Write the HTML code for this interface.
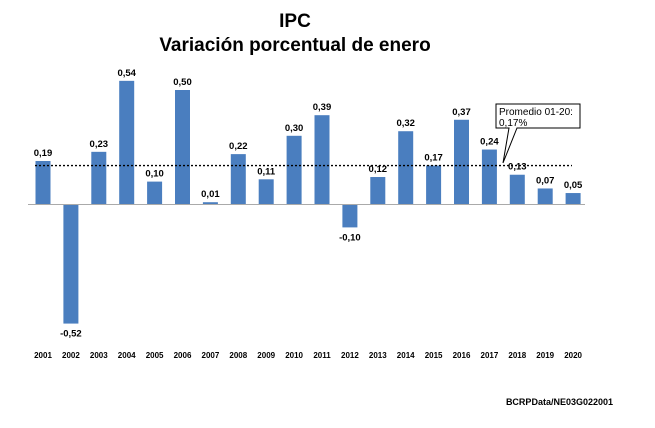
<!DOCTYPE html>
<html><head><meta charset="utf-8"><style>
body{margin:0;background:#fff;}
svg{display:block;font-family:"Liberation Sans",Arial,sans-serif;}
</style></head><body>
<svg width="655" height="428">
<text x="295" y="27" text-anchor="middle" font-size="19" font-weight="bold">IPC</text>
<text x="295" y="51" text-anchor="middle" font-size="19" font-weight="bold">Variación porcentual de enero</text>
<g id="bars"></g>
<line x1="28" y1="204.5" x2="585" y2="204.5" stroke="#aaa" stroke-width="1"/>
<g id="labels"></g>
<g id="years"></g>
<line id="avg" x1="35" x2="572" stroke="#000" stroke-width="1.3" stroke-dasharray="2,2"/>
<g>
<path d="M496,104 H580 V128 H517 L503,163 L509,128 H496 Z" fill="#fff" stroke="#000" stroke-width="1"/>
<text x="499" y="115" font-size="10">Promedio 01-20:</text>
<text x="499" y="126" font-size="10">0,17%</text>
</g>
<text x="613" y="405" text-anchor="end" font-size="9" font-weight="bold">BCRPData/NE03G022001</text>
</svg>
<script>
const years=["2001","2002","2003","2004","2005","2006","2007","2008","2009","2010","2011","2012","2013","2014","2015","2016","2017","2018","2019","2020"];
const values=[0.19,-0.52,0.23,0.54,0.10,0.50,0.01,0.22,0.11,0.30,0.39,-0.10,0.12,0.32,0.17,0.37,0.24,0.13,0.07,0.05];
const average=0.17;
const ns="http://www.w3.org/2000/svg";
const y0=204.5,k=229;
function xc(i){return 43+i*27.9;}
function ys(v){return y0-v*k;}
const bars=document.getElementById('bars'),labels=document.getElementById('labels'),yrs=document.getElementById('years');
values.forEach((v,i)=>{
 const r=document.createElementNS(ns,'rect');
 r.setAttribute('x',xc(i)-7.5);r.setAttribute('width',15);
 r.setAttribute('y',Math.min(ys(v),y0));r.setAttribute('height',Math.abs(v*k));
 r.setAttribute('fill','#4a7ebf');
 
 
 bars.appendChild(r);
 const t=document.createElementNS(ns,'text');
 t.setAttribute('x',xc(i));t.setAttribute('text-anchor','middle');
 t.setAttribute('y',v>=0?ys(v)-5:ys(v)+13);
 t.setAttribute('font-size','9.5');t.setAttribute('font-weight','bold');
 t.textContent=v.toFixed(2).replace('.',',');
 
 
 labels.appendChild(t);
 const y=document.createElementNS(ns,'text');
 y.setAttribute('x',xc(i));y.setAttribute('y',358);y.setAttribute('text-anchor','middle');
 y.setAttribute('font-size','8');y.setAttribute('font-weight','bold');
 y.textContent=years[i];
 
 
 yrs.appendChild(y);
});
const a=document.getElementById('avg');a.setAttribute('y1',ys(average));a.setAttribute('y2',ys(average));
</script>
</body></html>
